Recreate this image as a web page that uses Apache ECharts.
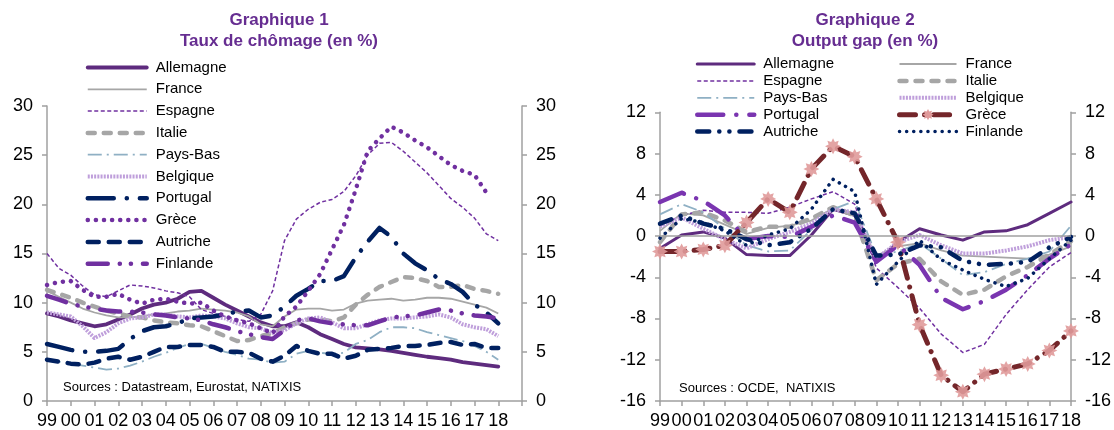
<!DOCTYPE html>
<html>
<head>
<meta charset="utf-8">
<script src="https://cdn.jsdelivr.net/npm/echarts@6/dist/echarts.min.js"></script>
<style>
  html, body { margin: 0; padding: 0; background: #fff; }
  #chart { width: 1114px; height: 430px; }
</style>
</head>
<body>
<div id="chart"></div>
<script>
// ---- Graphique 1 : taux de chômage (semestriel) ----
const years1 = [1999, 1999.5, 2000, 2000.5, 2001, 2001.5, 2002, 2002.5, 2003, 2003.5,
  2004, 2004.5, 2005, 2005.5, 2006, 2006.5, 2007, 2007.5, 2008, 2008.5,
  2009, 2009.5, 2010, 2010.5, 2011, 2011.5, 2012, 2012.5, 2013, 2013.5,
  2014, 2014.5, 2015, 2015.5, 2016, 2016.5, 2017, 2017.5, 2018]
const xLabels = ['99', '00', '01', '02', '03', '04', '05', '06', '07', '08',
  '09', '10', '11', '12', '13', '14', '15', '16', '17', '18']

const uAllemagne = [8.9, 8.6, 8.2, 7.9, 7.6, 7.8, 8.3, 8.8, 9.4, 9.8, 10.0, 10.4, 11.1, 11.2, 10.5, 9.8, 9.2, 8.6, 8.0, 7.6,
  7.6, 8.0, 7.5, 6.8, 6.3, 5.8, 5.45, 5.35, 5.25, 5.1, 4.9, 4.7, 4.5, 4.35, 4.2, 3.95, 3.8, 3.65, 3.5]
const uFrance = [11.2, 10.6, 10.0, 9.4, 9.0, 8.7, 8.5, 8.5, 8.6, 8.8, 8.9, 9.1, 9.2, 9.4, 9.3, 9.2, 9.0, 8.6, 7.8, 7.6,
  8.6, 9.3, 9.4, 9.4, 9.2, 9.3, 9.9, 10.2, 10.3, 10.4, 10.2, 10.3, 10.5, 10.5, 10.4, 10.1, 9.8, 9.5, 8.9]
const uEspagne = [15.0, 13.5, 12.8, 11.7, 10.8, 10.6, 11.2, 11.8, 11.7, 11.5, 11.2, 11.0, 10.6, 9.3, 8.9, 8.6, 8.3, 8.1, 8.8, 11.2,
  16.3, 18.5, 19.5, 20.2, 20.5, 21.3, 22.9, 25.0, 26.2, 26.3, 25.4, 24.3, 23.2, 21.9, 20.6, 19.7, 18.6, 17.0, 16.3]
const uItalie = [11.3, 10.9, 10.5, 10.0, 9.6, 9.2, 8.9, 8.6, 8.5, 8.2, 8.0, 7.9, 7.7, 7.6, 7.1, 6.6, 6.1, 6.2, 6.6, 6.9,
  7.5, 7.9, 8.3, 8.3, 8.1, 8.5, 9.8, 10.8, 11.6, 12.1, 12.6, 12.5, 12.2, 11.6, 11.6, 11.8, 11.4, 11.2, 10.9]
const uPaysBas = [4.3, 4.0, 3.8, 3.6, 3.4, 3.2, 3.3, 3.6, 4.0, 4.5, 4.9, 5.4, 5.8, 5.8, 5.4, 5.0, 4.7, 4.3, 4.2, 3.9,
  4.0, 4.8, 5.1, 4.9, 4.8, 4.9, 5.8, 6.2, 7.0, 7.5, 7.5, 7.4, 7.0, 6.7, 6.4, 6.1, 5.6, 5.0, 4.2]
const uBelgique = [9.0, 8.8, 8.6, 7.6, 6.4, 7.0, 7.9, 8.4, 8.5, 8.8, 8.8, 8.6, 8.5, 8.7, 8.6, 8.4, 7.9, 7.5, 7.4, 6.9,
  7.2, 7.9, 8.4, 8.5, 8.0, 7.4, 7.4, 7.8, 8.2, 8.4, 8.4, 8.5, 8.6, 8.8, 8.5, 7.8, 7.5, 7.3, 6.6]
const uPortugal = [5.8, 5.5, 5.2, 5.0, 5.0, 5.1, 5.3, 6.3, 7.1, 7.5, 7.6, 7.9, 8.4, 8.5, 8.6, 8.8, 9.1, 9.2, 8.5, 8.7,
  9.6, 10.7, 11.4, 12.2, 12.2, 12.7, 14.6, 16.2, 17.6, 16.7, 15.0, 14.0, 13.3, 12.4, 11.9, 11.1, 9.8, 9.0, 7.9]
const uGrece = [11.8, 12.1, 12.2, 11.3, 10.6, 10.6, 10.9, 10.3, 9.9, 10.3, 10.4, 10.1, 9.9, 10.0, 9.2, 8.6, 8.2, 7.9, 7.4, 6.9,
  8.6, 9.6, 11.2, 12.9, 15.4, 17.9, 21.5, 25.4, 26.7, 27.9, 27.3, 26.5, 25.8, 24.9, 24.0, 23.4, 23.0, 21.2, null]
const uAutriche = [4.2, 4.0, 3.8, 3.7, 3.9, 4.3, 4.5, 4.2, 4.5, 5.0, 5.5, 5.5, 5.7, 5.7, 5.5, 5.0, 5.0, 4.9, 4.3, 4.0,
  4.6, 5.6, 5.1, 4.8, 4.8, 4.3, 4.6, 5.2, 5.3, 5.4, 5.6, 5.6, 5.7, 5.9, 6.0, 5.7, 5.8, 5.4, 5.4]
const uFinlande = [10.7, 10.3, 9.9, 9.6, 9.4, 9.2, 9.1, 9.1, 9.0, 8.8, 8.7, 8.5, 8.4, 8.2, 7.8, 7.5, 7.1, 6.8, 6.5, 6.3,
  7.2, 8.2, 8.4, 8.1, 7.9, 7.8, 7.7, 7.7, 8.1, 8.5, 8.6, 8.7, 9.0, 9.3, 9.2, 8.9, 8.7, 8.6, 8.4]

// ---- Graphique 2 : output gap (annuel) ----
const years2 = [1999, 2000, 2001, 2002, 2003, 2004, 2005, 2006, 2007, 2008,
  2009, 2010, 2011, 2012, 2013, 2014, 2015, 2016, 2017, 2018]

const gAllemagne = [-1.2, 0.1, 0.4, -0.2, -1.8, -1.9, -1.9, 0.1, 2.6, 2.0, -2.5, -0.6, 0.7, 0.1, -0.4, 0.4, 0.5, 1.1, 2.2, 3.3]
const gFrance = [0.5, 2.2, 2.0, 1.1, 0.2, 0.8, 1.0, 1.5, 2.7, 2.0, -1.9, -1.0, -0.7, -1.4, -1.9, -2.0, -2.1, -2.2, -1.8, -1.0]
const gEspagne = [1.0, 2.0, 2.5, 2.3, 2.3, 2.2, 2.8, 3.6, 4.3, 3.1, -3.1, -5.0, -7.0, -9.5, -11.3, -10.5, -7.6, -5.2, -3.0, -1.6]
const gItalie = [-0.6, 2.1, 2.3, 1.5, 0.4, 0.9, 0.9, 1.7, 2.8, 2.0, -4.3, -2.7, -2.2, -4.4, -5.7, -5.2, -3.9, -3.0, -1.8, -0.5]
const gPaysBas = [2.1, 3.1, 2.3, 0.7, -0.9, -1.5, -1.4, 0.6, 2.6, 3.4, -1.9, -1.5, -0.7, -2.2, -3.8, -3.5, -2.7, -2.2, -1.5, 1.0]
const gBelgique = [0.9, 1.8, 0.7, -0.3, -1.2, -0.3, 0.4, 1.2, 2.6, 2.3, -2.2, -0.6, 0.1, -0.9, -1.7, -1.7, -1.4, -1.0, -0.4, -0.1]
const gPortugal = [3.3, 4.2, 3.4, 2.0, -0.3, 0.0, -0.1, 0.9, 2.0, 1.3, -2.5, -0.9, -2.8, -6.0, -7.1, -6.3, -5.2, -3.8, -2.2, -0.8]
const gGrece = [-1.5, -1.5, -1.3, -0.9, 1.3, 3.6, 2.3, 6.5, 8.7, 7.7, 3.6, -0.6, -8.6, -13.5, -15.1, -13.4, -12.9, -12.4, -11.1, -9.2]
const gAutriche = [1.2, 2.0, 1.2, 0.7, -0.3, -0.9, -0.6, 0.7, 2.6, 2.2, -1.9, -1.8, -0.9, -1.1, -2.4, -2.8, -2.7, -2.5, -1.1, -0.1]
const gFinlande = [-0.2, 1.7, 1.3, 0.5, -0.9, 0.1, 0.7, 2.6, 5.5, 4.3, -4.7, -2.5, -0.4, -2.3, -3.3, -4.2, -4.9, -4.1, -2.2, -0.4]

const FONT = '"Liberation Sans", Arial, sans-serif'
const PURPLE_DARK = '#5E2B7E'
const PURPLE = '#7030A0'
const GREY = '#A6A6A6'
const NAVY = '#002060'
const BLUEGREY = '#8FB0C4'
const LAVENDER = '#BF9FDB'
const AXIS = '#A0A0A0'
// astérisque des marqueurs Grèce
const STAR = 'path://M10,5L7.77,6.15L8.54,8.54L6.15,7.77L5,10L3.85,7.77L1.46,8.54L2.23,6.15L0,5L2.23,3.85L1.46,1.46L3.85,2.23L5,0L6.15,2.23L8.54,1.46L7.77,3.85Z'

// série ligne, les points sont construits depuis les tableaux
function line(name, xs, ys, grid, color, width, type, cap, extra) {
  let pts = []
  for (let i = 0; i < xs.length; i++) {
    if (ys[i] !== null) pts.push([xs[i], ys[i]])
  }
  return Object.assign({
    name: name,
    type: 'line',
    xAxisIndex: grid,
    yAxisIndex: grid * 2,
    data: pts,
    symbol: 'none',
    color: color,
    lineStyle: {color: color, width: width, type: type, cap: cap || 'butt', join: 'round'},
    animation: false,
    silent: true
  }, extra || {})
}

function yAxis(grid, pos, min, max, interval) {
  return {
    type: 'value', gridIndex: grid, position: pos, min: min, max: max, interval: interval,
    axisLine: {show: true, lineStyle: {color: AXIS, width: 1.5}},
    axisTick: {show: true, inside: false, length: 5, lineStyle: {color: AXIS, width: 1.5}},
    axisLabel: {color: '#000', fontSize: 18, fontFamily: FONT, margin: 14},
    splitLine: {show: false}
  }
}

function xAxis(grid, max) {
  return {
    type: 'value', gridIndex: grid, min: 1999, max: max, interval: 1,
    axisLine: {show: true, onZero: false, lineStyle: {color: AXIS, width: 1.5}},
    axisTick: {show: true, inside: false, length: 5, lineStyle: {color: AXIS, width: 1.5}},
    axisLabel: {
      color: '#000', fontSize: 18, fontFamily: FONT, margin: 11,
      formatter: v => (v <= 2018 ? xLabels[v - 1999] : '')
    },
    splitLine: {show: false}
  }
}

const legendText = {fontSize: 15, color: '#000', fontFamily: FONT, padding: [0, 0, 0, 4]}
const noSymbol = {opacity: 0}

let myChart = echarts.init(document.getElementById('chart'))

let option = {
  backgroundColor: '#fff',
  animation: false,
  grid: [
    {left: 47, right: 592, top: 106, bottom: 25},
    {left: 660, right: 42, top: 112.3, bottom: 25}
  ],
  xAxis: [xAxis(0, 2019), xAxis(1, 2018)],
  yAxis: [
    yAxis(0, 'left', 0, 30, 5), yAxis(0, 'right', 0, 30, 5),
    yAxis(1, 'left', -16, 12, 4), yAxis(1, 'right', -16, 12, 4)
  ],
  legend: [
    {
      orient: 'vertical', left: 80.5, top: 55, itemWidth: 59, itemHeight: 14, itemGap: 6.8,
      selectedMode: false, textStyle: legendText, lineStyle: {width: 'inherit'}, itemStyle: noSymbol,
      data: ['Allemagne', 'France', 'Espagne', 'Italie', 'Pays-Bas', 'Belgique', 'Portugal', 'Grèce', 'Autriche', 'Finlande']
    },
    {
      orient: 'vertical', left: 690, top: 51.5, itemWidth: 57, itemHeight: 14, itemGap: 1.9,
      selectedMode: false, textStyle: legendText, lineStyle: {width: 'inherit'}, itemStyle: noSymbol,
      formatter: n => n.replace('g2 ', ''),
      data: ['g2 Allemagne', 'g2 Espagne', 'g2 Pays-Bas', 'g2 Portugal', 'g2 Autriche']
    },
    {
      orient: 'vertical', left: 892, top: 51.5, itemWidth: 57, itemHeight: 14, itemGap: 1.9,
      selectedMode: false, textStyle: legendText, lineStyle: {width: 'inherit'}, itemStyle: noSymbol,
      formatter: n => n.replace('g2 ', ''),
      data: ['g2 France', 'g2 Italie', 'g2 Belgique', {name: 'g2 Grèce', itemStyle: {opacity: 1}}, 'g2 Finlande']
    }
  ],
  graphic: [
    {type: 'text', x: 279, y: 20, style: {text: 'Graphique 1', font: 'bold 17px ' + FONT, fill: '#662D91', align: 'center', verticalAlign: 'middle'}},
    {type: 'text', x: 279, y: 41, style: {text: 'Taux de chômage (en %)', font: 'bold 17px ' + FONT, fill: '#662D91', align: 'center', verticalAlign: 'middle'}},
    {type: 'text', x: 865, y: 20, style: {text: 'Graphique 2', font: 'bold 17px ' + FONT, fill: '#662D91', align: 'center', verticalAlign: 'middle'}},
    {type: 'text', x: 865, y: 41, style: {text: 'Output gap (en %)', font: 'bold 17px ' + FONT, fill: '#662D91', align: 'center', verticalAlign: 'middle'}},
    {type: 'text', x: 63, y: 387, style: {text: 'Sources : Datastream, Eurostat, NATIXIS', font: '13px ' + FONT, fill: '#000', verticalAlign: 'middle'}},
    {type: 'text', x: 679, y: 388, style: {text: 'Sources : OCDE,  NATIXIS', font: '13px ' + FONT, fill: '#000', verticalAlign: 'middle'}}
  ],
  series: [
    // Graphique 1
    line('Allemagne', years1, uAllemagne, 0, PURPLE_DARK, 3.8, 'solid', 'round'),
    line('France', years1, uFrance, 0, GREY, 1.8, 'solid'),
    line('Espagne', years1, uEspagne, 0, PURPLE, 1.5, [4, 2.5]),
    line('Italie', years1, uItalie, 0, GREY, 4.5, [7, 9], 'round'),
    line('Pays-Bas', years1, uPaysBas, 0, BLUEGREY, 1.8, [14, 5, 2, 5]),
    line('Belgique', years1, uBelgique, 0, LAVENDER, 4, [2, 1.2]),
    line('Portugal', years1, uPortugal, 0, NAVY, 4.5, [26, 13, 0.1, 13], 'round'),
    line('Grèce', years1, uGrece, 0, PURPLE, 4.5, [0.1, 8], 'round'),
    line('Autriche', years1, uAutriche, 0, NAVY, 4.5, [11, 10], 'round'),
    line('Finlande', years1, uFinlande, 0, PURPLE, 4.5, [20, 12, 0.1, 11, 0.1, 12], 'round'),
    // Graphique 2
    line('g2 Allemagne', years2, gAllemagne, 1, PURPLE_DARK, 3, 'solid', 'round', {
      markLine: {
        silent: true, symbol: 'none', label: {show: false}, animation: false,
        lineStyle: {color: AXIS, width: 1.5, type: 'solid'},
        data: [{yAxis: 0}]
      }
    }),
    line('g2 France', years2, gFrance, 1, GREY, 1.8, 'solid'),
    line('g2 Espagne', years2, gEspagne, 1, PURPLE, 1.5, [4, 2.5]),
    line('g2 Italie', years2, gItalie, 1, GREY, 4.5, [7, 9], 'round'),
    line('g2 Pays-Bas', years2, gPaysBas, 1, BLUEGREY, 1.8, [14, 5, 2, 5]),
    line('g2 Belgique', years2, gBelgique, 1, LAVENDER, 4, [2, 1.2]),
    line('g2 Portugal', years2, gPortugal, 1, '#7A35B0', 4.5, [26, 13, 0.1, 13], 'round'),
    line('g2 Grèce', years2, gGrece, 1, '#74262A', 5, [16, 9, 0.1, 9], 'round', {
      symbol: STAR, symbolSize: 16, showSymbol: true,
      itemStyle: {color: '#E09A9A', opacity: 0.9}
    }),
    line('g2 Autriche', years2, gAutriche, 1, NAVY, 4.5, [12, 10, 0.1, 10, 0.1, 10], 'round'),
    line('g2 Finlande', years2, gFinlande, 1, NAVY, 3.5, [0.1, 7], 'round')
  ]
}

myChart.setOption(option)
</script>
</body>
</html>
